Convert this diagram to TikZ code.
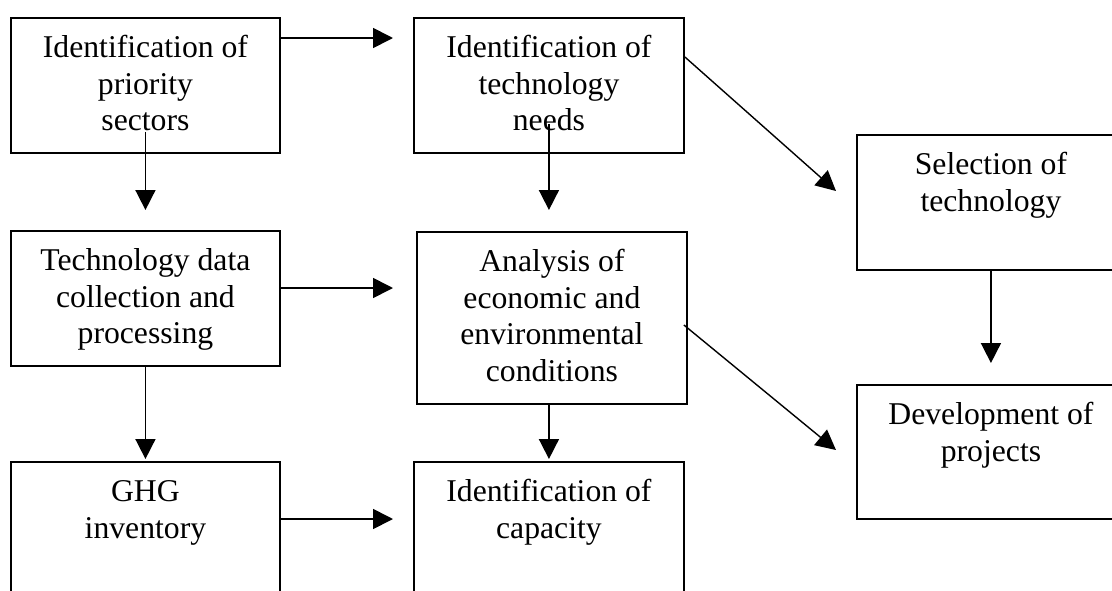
\documentclass[tikz,border=0pt]{standalone}
\usepackage{fontspec}
\setmainfont{Liberation Serif}
\usetikzlibrary{arrows.meta}
\newcommand{\boxtxt}[3]{\parbox[t][#2][t]{#1}{\centering\rule{0pt}{40pt}#3}}
\tikzset{
	stage/.style={draw, line width=1.9pt, anchor=north west, inner sep=0pt,
		font=\fontsize{31.7}{36.5}\selectfont},
	flow/.style={line width=1.7pt, -{Triangle[length=20pt,width=20pt]}},
}
\begin{document}
\begin{tikzpicture}[x=1pt,y=1pt]
	\useasboundingbox (0,0) rectangle (1112,-590);
	% boxes
	\node[stage] (prio) at (10,-17)
		{\boxtxt{269pt}{135pt}{Identification of\\priority\\sectors}};
	\node[stage] (needs) at (413,-17)
		{\boxtxt{270pt}{135pt}{Identification of\\technology\\needs}};
	\node[stage] (select) at (856,-134)
		{\boxtxt{268pt}{135pt}{Selection of\\technology}};
	\node[stage] (data) at (10,-230)
		{\boxtxt{269pt}{135pt}{Technology data\\collection and\\processing}};
	\node[stage] (analysis) at (416,-231)
		{\boxtxt{270pt}{172pt}{Analysis of\\economic and\\environmental\\conditions}};
	\node[stage] (develop) at (856,-384)
		{\boxtxt{268pt}{134pt}{Development of\\projects}};
	\node[stage] (ghg) at (10,-461)
		{\boxtxt{269pt}{150pt}{GHG\\inventory}};
	\node[stage] (capacity) at (413,-461)
		{\boxtxt{270pt}{150pt}{Identification of\\capacity}};
	% arrows
	\draw[flow, shorten >=20pt] ([yshift=-21pt]prio.north east) -- ([yshift=-21pt]needs.north west);
	\draw[flow, shorten >=20pt] ([yshift=22pt]prio.south) -- (data.north);
	\draw[flow, shorten >=21pt] ([yshift=30pt]needs.south) -- (needs.south |- analysis.north);
	\draw[flow, line width=1.4pt] ([yshift=-40pt]needs.north east) -- ([shift={(-20pt,-57pt)}]select.north west);
	\draw[flow, shorten >=23pt] ([yshift=-58pt]data.north east) -- ([yshift=-57pt]analysis.north west);
	\draw[flow, shorten >=2pt] (data.south) -- (ghg.north);
	\draw[flow, shorten >=20pt] ([yshift=-58pt]ghg.north east) -- ([yshift=-58pt]capacity.north west);
	\draw[flow, shorten >=2pt] (capacity.north |- analysis.south) -- (capacity.north);
	\draw[flow, line width=1.4pt] ([shift={(-4pt,-94pt)}]analysis.north east) -- ([shift={(-20pt,-66pt)}]develop.north west);
	\draw[flow, shorten >=21pt] (select.south) -- (develop.north);
\end{tikzpicture}
\end{document}
